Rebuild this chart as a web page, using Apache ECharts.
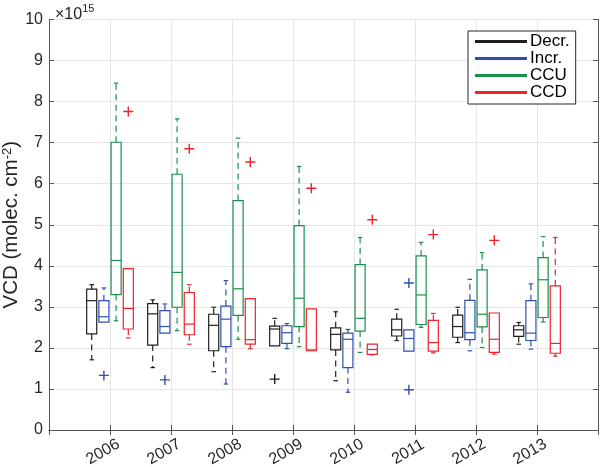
<!DOCTYPE html>
<html><head><meta charset="utf-8">
<script src="https://cdn.jsdelivr.net/npm/echarts@6/dist/echarts.min.js"></script>
<style>html,body{margin:0;padding:0;background:#fff}#c{width:600px;height:467px}</style>
</head><body><div id="c"></div>
<script>
// ---------- data ----------
const years = [2006, 2007, 2008, 2009, 2010, 2011, 2012, 2013];
const seriesNames = ['Decr.', 'Incr.', 'CCU', 'CCD'];
// per year: [lower whisker, Q1, median, Q3, upper whisker]  (units of 1e15 molec. cm^-2)
const decrStats = [
  [1.71, 2.34, 3.15, 3.43, 3.54],
  [1.52, 2.07, 2.83, 3.08, 3.17],
  [1.42, 1.93, 2.55, 2.82, 2.99],
  [2.05, 2.05, 2.46, 2.53, 2.72],
  [1.20, 1.95, 2.33, 2.49, 2.88],
  [2.18, 2.29, 2.44, 2.70, 2.94],
  [2.13, 2.26, 2.52, 2.80, 2.99],
  [2.09, 2.28, 2.44, 2.54, 2.62]
];
const incrStats = [
  [2.63, 2.63, 2.76, 3.15, 3.46],
  [2.36, 2.36, 2.52, 2.91, 3.07],
  [1.12, 2.03, 2.70, 3.02, 3.64],
  [1.98, 2.11, 2.37, 2.54, 2.59],
  [0.92, 1.52, 2.21, 2.36, 2.45],
  [1.92, 1.92, 2.23, 2.44, 2.44],
  [1.93, 2.20, 2.37, 3.16, 3.67],
  [1.97, 2.18, 2.36, 3.15, 3.56]
];
const ccuStats = [
  [2.66, 3.30, 4.13, 7.01, 8.45],
  [2.42, 2.99, 3.84, 6.23, 7.58],
  [2.21, 2.79, 3.44, 5.59, 7.11],
  [2.03, 2.52, 3.21, 4.98, 6.42],
  [1.89, 2.41, 2.72, 4.03, 4.69],
  [2.50, 2.57, 3.29, 4.24, 4.57],
  [2.01, 2.51, 2.82, 3.90, 4.32],
  [2.63, 2.74, 3.66, 4.20, 4.71]
];
const ccdStats = [
  [2.24, 2.46, 2.96, 3.93, 3.93],
  [2.09, 2.32, 2.58, 3.35, 3.54],
  [1.98, 2.09, 2.20, 3.20, 3.20],
  [1.93, 1.93, 1.95, 2.95, 2.95],
  [1.83, 1.84, 1.96, 2.09, 2.09],
  [1.88, 1.92, 2.13, 2.67, 2.84],
  [1.85, 1.89, 2.21, 2.85, 2.85],
  [1.80, 1.87, 2.11, 3.51, 4.69]
];
// outliers: [year, value]
const decrOutliers = [[2009, 1.24]];
const incrOutliers = [[2006, 1.33], [2007, 1.22], [2011, 3.58], [2011, 0.98]];
const ccuOutliers = [];
const ccdOutliers = [[2006, 7.76], [2007, 6.85], [2008, 6.53], [2009, 5.89], [2010, 5.12], [2011, 4.76], [2012, 4.62]];
const yMin = 0, yMax = 10, yStep = 1;
const xMin = 2005, xMax = 2014;

// ---------- style ----------
const colors = ['#1f1f1f', '#2f4fb0', '#17914a', '#f0222c'];
const offsets = [-0.3, -0.1, 0.1, 0.3];
const BOX_W = 0.165;
const FONT = "'Liberation Sans', Arial, Helvetica, sans-serif";
const AX = '#555';

function makeRender(offset, color) {
  return function (params, api) {
    const x = api.value(0) + offset;
    const mn = api.value(1), q1 = api.value(2), md = api.value(3), q3 = api.value(4), mx = api.value(5);
    const halfW = api.size([BOX_W, 0])[0] / 2;
    const capHalf = halfW * 0.45;
    const cx = api.coord([x, 0])[0];
    const Y = v => api.coord([x, v])[1];
    const st = { stroke: color, fill: null, lineWidth: 1.2 };
    const dash = { stroke: color, fill: null, lineWidth: 1.2, lineDash: [6, 4.5] };
    const ch = [];
    ch.push({ type: 'rect', shape: { x: cx - halfW, y: Y(q3), width: 2 * halfW, height: Y(q1) - Y(q3) }, style: st });
    ch.push({ type: 'line', shape: { x1: cx - halfW, y1: Y(md), x2: cx + halfW, y2: Y(md) }, style: st });
    if (mx > q3 + 1e-9) {
      ch.push({ type: 'line', shape: { x1: cx, y1: Y(q3), x2: cx, y2: Y(mx) }, style: dash });
      ch.push({ type: 'line', shape: { x1: cx - capHalf, y1: Y(mx), x2: cx + capHalf, y2: Y(mx) }, style: st });
    }
    if (mn < q1 - 1e-9) {
      ch.push({ type: 'line', shape: { x1: cx, y1: Y(q1), x2: cx, y2: Y(mn) }, style: dash });
      ch.push({ type: 'line', shape: { x1: cx - capHalf, y1: Y(mn), x2: cx + capHalf, y2: Y(mn) }, style: st });
    }
    return { type: 'group', children: ch };
  };
}

const allStats = [decrStats, incrStats, ccuStats, ccdStats];
const allOut = [decrOutliers, incrOutliers, ccuOutliers, ccdOutliers];
const series = [];
allStats.forEach((stats, k) => {
  series.push({
    name: seriesNames[k], type: 'custom',
    renderItem: makeRender(offsets[k], colors[k]),
    itemStyle: { color: colors[k] },
    encode: { x: 0, y: [1, 2, 3, 4, 5] },
    data: stats.map((s, i) => [years[i]].concat(s)),
    z: 3
  });
});
allOut.forEach((outs, k) => {
  series.push({
    name: seriesNames[k] + ' outliers', type: 'scatter',
    symbol: 'path://M5,0L5,10M0,5L10,5', symbolSize: 10,
    itemStyle: { color: 'none', borderColor: colors[k], borderWidth: 1.4, opacity: 1 },
    data: outs.map(o => [o[0] + offsets[k], o[1]]),
    silent: true, z: 4
  });
});

const chart = echarts.init(document.getElementById('c'), null, { renderer: 'canvas' });
chart.setOption({
  animation: false,
  backgroundColor: '#fff',
  textStyle: { fontFamily: FONT },
  title: {
    text: '{a|×10}{b|15}', left: 50, top: -2,
    textStyle: { rich: {
      a: { fontSize: 16, color: '#262626', fontFamily: FONT, fontWeight: 'normal', lineHeight: 20, verticalAlign: 'bottom' },
      b: { fontSize: 11, color: '#262626', fontFamily: FONT, fontWeight: 'normal', verticalAlign: 'top', lineHeight: 20 }
    } }
  },
  grid: { left: 49, right: 2, top: 19.5, bottom: 37, containLabel: false, outerBoundsMode: 'none' },
  legend: {
    data: seriesNames, orient: 'vertical', left: 468, top: 31,
    padding: [2, 6, 3, 7], itemGap: 0, itemWidth: 52, itemHeight: 3, icon: 'rect',
    borderColor: '#262626', borderWidth: 1, backgroundColor: '#fff',
    textStyle: { fontSize: 17, lineHeight: 17, color: '#000', fontFamily: FONT, padding: [0, 0, 0, -2] }
  },
  xAxis: [{
    type: 'value', min: xMin, max: xMax, interval: 1,
    axisLine: { show: true, lineStyle: { color: AX, width: 1 } },
    axisTick: { show: true, inside: true, length: 5, lineStyle: { color: AX } },
    splitLine: { show: true, lineStyle: { color: '#e6e6e6' } },
    axisLabel: {
      showMinLabel: false, showMaxLabel: false,
      rotate: 30, align: 'center', verticalAlign: 'middle', margin: 18,
      padding: [0, 16, 0, 0],
      fontSize: 16, color: '#262626', fontFamily: FONT,
      formatter: v => (years.indexOf(v) >= 0 ? String(v) : '')
    }
  }, {
    type: 'value', min: xMin, max: xMax, interval: 1, position: 'top',
    axisLine: { show: true, lineStyle: { color: AX, width: 1 } },
    axisTick: { show: true, inside: true, length: 5, lineStyle: { color: AX } },
    splitLine: { show: false }, axisLabel: { show: false }
  }],
  yAxis: [{
    type: 'value', min: yMin, max: yMax, interval: yStep,
    name: 'VCD (molec. cm{sup|-2})', nameLocation: 'middle', nameGap: 27, nameRotate: 90,
    nameMoveOverlap: false,
    nameTextStyle: { fontSize: 20.5, color: '#262626', fontFamily: FONT,
      rich: { sup: { fontSize: 13, color: '#262626', fontFamily: FONT, verticalAlign: 'top', padding: [0, 0, 7, 0] } } },
    axisLine: { show: true, lineStyle: { color: AX, width: 1 } },
    axisTick: { show: true, inside: true, length: 5, lineStyle: { color: AX } },
    splitLine: { show: true, lineStyle: { color: '#e6e6e6' } },
    axisLabel: { fontSize: 16, color: '#262626', fontFamily: FONT, margin: 6 }
  }, {
    type: 'value', min: yMin, max: yMax, interval: yStep, position: 'right',
    axisLine: { show: true, lineStyle: { color: AX, width: 1 } },
    axisTick: { show: true, inside: true, length: 5, lineStyle: { color: AX } },
    splitLine: { show: false }, axisLabel: { show: false }
  }],
  series: series
});
</script></body></html>
